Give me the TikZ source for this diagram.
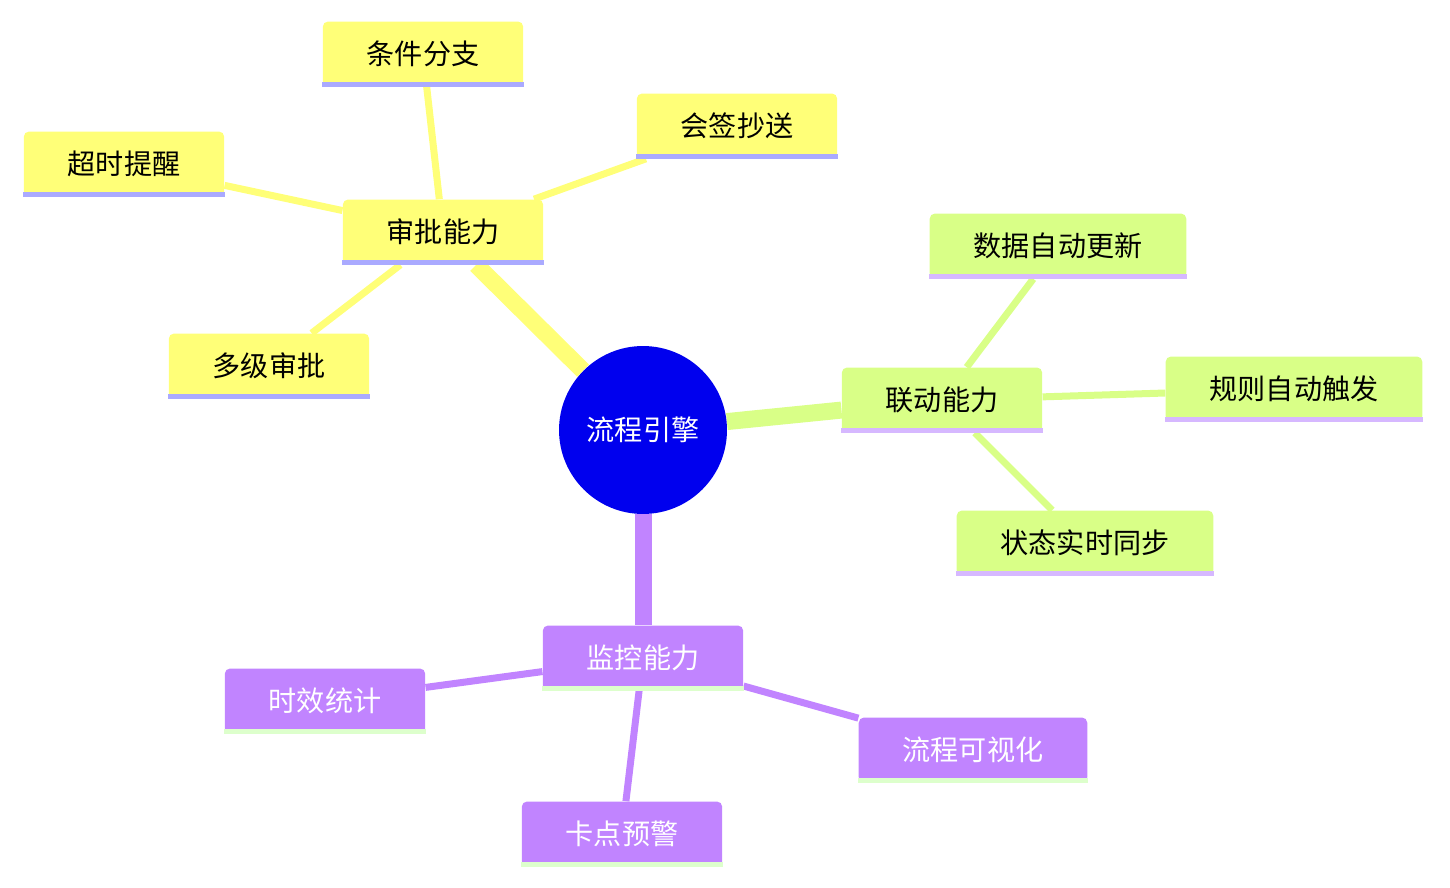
\documentclass[tikz,border=0pt]{standalone}
\usepackage{fontspec}
\setmainfont{Noto Sans CJK SC}
\usetikzlibrary{positioning, backgrounds}
\definecolor{rootblue}{HTML}{0000EE}
\definecolor{appyellow}{HTML}{FFFF78}
\definecolor{linkgreen}{HTML}{D9FF87}
\definecolor{monpurple}{HTML}{C184FF}
\definecolor{lineblue}{HTML}{AAAAFF}
\definecolor{linelilac}{HTML}{D6B8FF}
\definecolor{linemint}{HTML}{DDFFCC}
\tikzset{
  px/.style={x=0.02cm,y=-0.02cm},
  leaf/.style={rectangle, rounded corners=3pt, minimum height=1.3cm, inner xsep=0.88cm,
    font=\fontsize{16}{19}\selectfont, text=black},
  trunk/.style={line width=0.34cm},
  twig/.style={line width=0.14cm},
  under/.style={line width=0.1cm},
}
\newcommand{\baseline}[2]{\draw[under,#2] ([yshift=0.04cm]#1.south west) -- ([yshift=0.04cm]#1.south east);}
\begin{document}
\begin{tikzpicture}[px]
\useasboundingbox (0,0) rectangle (1450,888);
% nodes
\node[circle, fill=rootblue, minimum size=3.36cm, text=white, font=\fontsize{16}{19}\selectfont] (root) at (643,430) {流程引擎};
\node[leaf, fill=appyellow] (approve) at (443,232) {审批能力};
\node[leaf, fill=appyellow] (branch) at (423,54) {条件分支};
\node[leaf, fill=appyellow] (cosign) at (737,126) {会签抄送};
\node[leaf, fill=appyellow] (timeout) at (124,164) {超时提醒};
\node[leaf, fill=appyellow] (multi) at (269,366) {多级审批};
\node[leaf, fill=linkgreen] (link) at (942,400) {联动能力};
\node[leaf, fill=linkgreen] (dataupd) at (1058,246) {数据自动更新};
\node[leaf, fill=linkgreen] (rule) at (1294,389) {规则自动触发};
\node[leaf, fill=linkgreen] (sync) at (1085,543) {状态实时同步};
\node[leaf, fill=monpurple, text=white] (monitor) at (643,658) {监控能力};
\node[leaf, fill=monpurple, text=white] (stats) at (325,701) {时效统计};
\node[leaf, fill=monpurple, text=white] (visual) at (973,750) {流程可视化};
\node[leaf, fill=monpurple, text=white] (alert) at (622,834) {卡点预警};
% underlines
\foreach \n in {approve,branch,cosign,timeout,multi} {\baseline{\n}{lineblue}}
\foreach \n in {link,dataupd,rule,sync} {\baseline{\n}{linelilac}}
\foreach \n in {monitor,stats,visual,alert} {\baseline{\n}{linemint}}
% edges
\begin{scope}[on background layer]
\draw[trunk, appyellow] (root) -- (approve);
\draw[trunk, linkgreen] (root) -- (link);
\draw[trunk, monpurple] (root) -- (monitor);
\foreach \n in {branch,cosign,timeout,multi} {\draw[twig, appyellow] (approve) -- (\n);}
\foreach \n in {dataupd,rule,sync} {\draw[twig, linkgreen] (link) -- (\n);}
\foreach \n in {stats,visual,alert} {\draw[twig, monpurple] (monitor) -- (\n);}
\end{scope}
\end{tikzpicture}
\end{document}
